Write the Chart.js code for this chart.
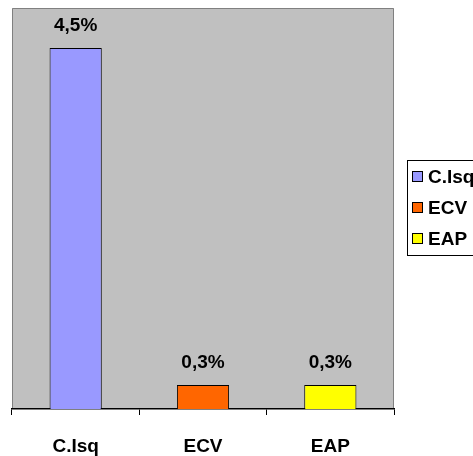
<!DOCTYPE html>
<html>
<head>
<meta charset="utf-8">
<script src="https://cdn.jsdelivr.net/npm/chart.js@4/dist/chart.umd.min.js"></script>
<style>
  html, body { margin: 0; padding: 0; background: #ffffff; }
  #wrap { width: 473px; height: 456px; position: relative; }
</style>
</head>
<body>
<div id="wrap"><canvas id="chart" width="473" height="456"></canvas></div>
<script>
// Categories and their percentages
const categories = ['C.Isq', 'ECV', 'EAP'];
const values = [4.5, 0.3, 0.3];
const barColors = ['#9999FF', '#FF6600', '#FFFF00'];
const yMin = 0;
const yMax = 5;

const FONT = '"Liberation Sans", Arial, Helvetica, sans-serif';
const FONT_SIZE = 19;

function fmtPct(v) {
  return v.toFixed(1).replace('.', ',') + '%';
}

// Grey plotting area with a thin grey frame on top, left and right
const plotBackground = {
  id: 'plotBackground',
  beforeDraw(chart) {
    const { ctx, chartArea: a } = chart;
    ctx.save();
    ctx.fillStyle = '#C0C0C0';
    ctx.fillRect(a.left, a.top, a.right - a.left, a.bottom - a.top);
    ctx.strokeStyle = '#808080';
    ctx.lineWidth = 1;
    ctx.beginPath();
    ctx.moveTo(a.left + 0.5, a.bottom);
    ctx.lineTo(a.left + 0.5, a.top + 0.5);
    ctx.lineTo(a.right - 0.5, a.top + 0.5);
    ctx.lineTo(a.right - 0.5, a.bottom);
    ctx.stroke();
    ctx.restore();
  }
};

// Value labels above every bar
const valueLabels = {
  id: 'valueLabels',
  afterDatasetsDraw(chart) {
    const { ctx } = chart;
    const meta = chart.getDatasetMeta(0);
    ctx.save();
    ctx.font = 'bold ' + FONT_SIZE + 'px ' + FONT;
    ctx.fillStyle = '#000000';
    ctx.textAlign = 'center';
    ctx.textBaseline = 'middle';
    meta.data.forEach((bar, i) => {
      ctx.fillText(fmtPct(values[i]), bar.x, bar.y - 22);
    });
    ctx.restore();
  }
};

// Boxed legend to the right of the plot
const boxedLegend = {
  id: 'boxedLegend',
  afterDraw(chart) {
    const { ctx, chartArea: a } = chart;
    const left = a.right + 13.5;
    const top = 160.5;
    const rowH = 31;
    const h = 95;
    ctx.save();
    ctx.fillStyle = '#ffffff';
    ctx.fillRect(left, top, 100, h);
    ctx.strokeStyle = '#000000';
    ctx.lineWidth = 1;
    ctx.strokeRect(left, top, 100, h);
    ctx.font = 'bold ' + FONT_SIZE + 'px ' + FONT;
    ctx.textBaseline = 'middle';
    ctx.textAlign = 'left';
    categories.forEach((c, i) => {
      const cy = 177 + i * rowH;
      ctx.fillStyle = barColors[i];
      ctx.fillRect(412.5, cy - 5.5, 10, 10);
      ctx.strokeStyle = '#000000';
      ctx.strokeRect(412.5, cy - 5.5, 10, 10);
      ctx.fillStyle = '#000000';
      ctx.fillText(c, 428, cy + 1);
    });
    ctx.restore();
  }
};

new Chart(document.getElementById('chart'), {
  type: 'bar',
  data: {
    labels: categories,
    datasets: [{
      data: values,
      backgroundColor: barColors,
      borderColor: '#000000',
      borderWidth: 1,
      borderSkipped: 'bottom',
      barPercentage: 0.41,
      categoryPercentage: 1.0
    }]
  },
  options: {
    responsive: false,
    animation: false,
    devicePixelRatio: 1,
    layout: { padding: { left: 12, top: 8, right: 79, bottom: 0 } },
    plugins: {
      legend: { display: false },
      tooltip: { enabled: false }
    },
    scales: {
      x: {
        afterFit(scale) { scale.height = 47; },
        grid: {
          offset: true,
          drawOnChartArea: false,
          drawTicks: true,
          tickLength: 6,
          color: '#000000',
          lineWidth: 1
        },
        border: { display: true, color: '#000000', width: 1.5 },
        ticks: {
          color: '#000000',
          padding: 20,
          font: { family: FONT, size: FONT_SIZE, weight: 'bold' }
        }
      },
      y: {
        display: false,
        min: yMin,
        max: yMax
      }
    }
  },
  plugins: [plotBackground, valueLabels, boxedLegend]
});
</script>
</body>
</html>
